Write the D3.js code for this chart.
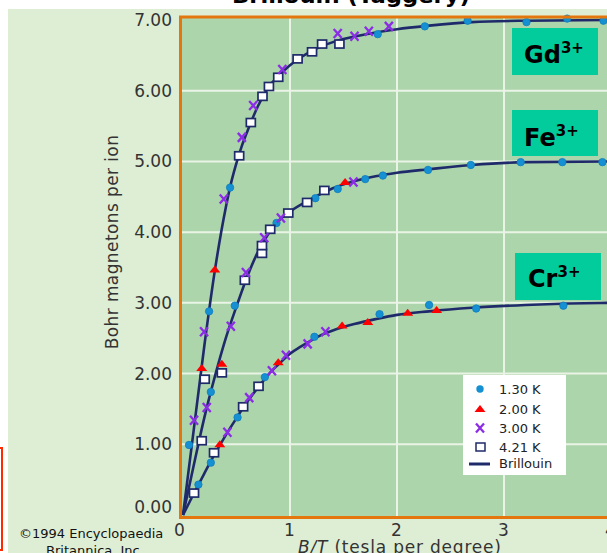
<!DOCTYPE html>
<html>
<head>
<meta charset="utf-8">
<script src="https://cdn.jsdelivr.net/npm/d3@7"></script>
<style>
  body { margin: 0; background: #fff; }
  svg { display: block; }
  text { font-family: "DejaVu Sans", Verdana, sans-serif; }
</style>
</head>
<body>
<script>
// values: [B/T, Bohr magnetons per ion]
var gdCurve = [[0,0],[0.1,1.2],[0.2,2.4],[0.3,3.48],[0.4,4.35],[0.45,4.7],[0.5,4.98],[0.55,5.22],[0.6,5.42],[0.7,5.78],[0.8,6.05],[0.9,6.22],[1.0,6.36],[1.1,6.47],[1.2,6.56],[1.3,6.63],[1.5,6.73],[1.75,6.81],[2.0,6.87],[2.3,6.92],[2.7,6.97],[3.2,6.99],[4.0,7.0]];
var feCurve = [[0,0],[0.1,0.7],[0.2,1.38],[0.3,1.97],[0.4,2.5],[0.5,2.95],[0.6,3.37],[0.7,3.72],[0.8,3.98],[0.9,4.17],[1.0,4.29],[1.2,4.47],[1.4,4.62],[1.6,4.72],[1.8,4.79],[2.0,4.84],[2.3,4.89],[2.7,4.95],[3.2,4.99],[4.0,5.0]];
var crCurve = [[0,0],[0.1,0.3],[0.2,0.59],[0.3,0.87],[0.4,1.13],[0.5,1.37],[0.6,1.6],[0.7,1.8],[0.8,1.99],[0.9,2.14],[1.0,2.28],[1.1,2.38],[1.2,2.47],[1.3,2.55],[1.4,2.61],[1.6,2.7],[1.8,2.77],[2.0,2.83],[2.3,2.88],[2.7,2.93],[3.2,2.97],[3.6,2.99],[4.0,3.0]];

// 1.30 K
var gd130 = [[0.056,0.99],[0.244,2.88],[0.44,4.63],[1.82,6.8],[2.26,6.91],[2.66,6.99],[3.21,6.97],[3.59,7.02],[3.93,6.99]];
var fe130 = [[0.26,1.74],[0.484,2.96],[0.874,4.13],[1.237,4.48],[1.446,4.61],[1.703,4.75],[1.868,4.8],[2.29,4.88],[2.69,4.95],[3.156,4.99],[3.545,4.99],[3.92,4.99]];
var cr130 = [[0.144,0.43],[0.26,0.74],[0.51,1.38],[0.765,1.95],[1.228,2.52],[1.837,2.84],[2.3,2.97],[2.74,2.92],[3.555,2.96]];
// 2.00 K
var gd200 = [[0.175,2.08],[0.297,3.47]];
var fe200 = [[0.363,2.14],[1.515,4.71]];
var cr200 = [[0.344,1.0],[0.89,2.16],[1.487,2.68],[1.727,2.73],[2.1,2.86],[2.37,2.9]];
// 3.00 K
var gd300 = [[0.103,1.34],[0.197,2.59],[0.381,4.47],[0.55,5.34],[0.656,5.79],[0.928,6.3],[1.446,6.81],[1.603,6.77],[1.737,6.84],[1.924,6.91]];
var fe300 = [[0.222,1.52],[0.447,2.67],[0.588,3.43],[0.759,3.92],[0.915,4.2],[1.593,4.71]];
var cr300 = [[0.415,1.17],[0.619,1.66],[0.831,2.04],[0.962,2.26],[1.165,2.42],[1.331,2.59]];
// 4.21 K
var gd421 = [[0.203,1.92],[0.525,5.08],[0.634,5.55],[0.743,5.92],[0.803,6.06],[0.89,6.19],[1.071,6.45],[1.206,6.55],[1.3,6.66],[1.462,6.66]];
var fe421 = [[0.175,1.05],[0.363,2.01],[0.578,3.32],[0.738,3.7],[0.738,3.81],[0.815,4.04],[0.984,4.27],[1.16,4.42],[1.321,4.59]];
var cr421 = [[0.103,0.31],[0.29,0.88],[0.562,1.53],[0.706,1.82]];

var xTicks = [0, 1, 2, 3, 4];
var yTicks = [0, 1, 2, 3, 4, 5, 6, 7];
var legendLabels = ["1.30 K", "2.00 K", "3.00 K", "4.21 K", "Brillouin"];
var ionNames = ["Gd", "Fe", "Cr"];
var ionCharge = "3+";

var W = 607, H = 553;
var navy = "#1f2a6b";

var svg = d3.select("body").append("svg")
    .attr("width", W).attr("height", H);

// light panel
svg.append("rect")
    .attr("x", 8).attr("y", 9).attr("width", W - 8).attr("height", H - 9)
    .attr("fill", "#deeed5");

// red bracket at the left edge
svg.append("rect")
    .attr("x", -20).attr("y", 448).attr("width", 22).attr("height", 102)
    .attr("fill", "none").attr("stroke", "#ff2a00").attr("stroke-width", 2);

// title, cut off by the top edge
svg.append("text")
    .attr("x", 232).attr("y", 3)
    .attr("font-size", 21).attr("font-weight", "bold")
    .attr("textLength", 238).attr("lengthAdjust", "spacingAndGlyphs")
    .text("Brillouin (Taggery)");

var x = d3.scaleLinear().domain([0, 4]).range([183, 611]);
var y = d3.scaleLinear().domain([0, 7]).range([515, 20]);

// plot area
svg.append("rect")
    .attr("x", 181).attr("y", 17).attr("width", 460).attr("height", 500)
    .attr("fill", "#acd5ab");

// grid
svg.append("g").selectAll("line").data([1, 2, 3]).enter().append("line")
    .attr("x1", function(d) { return x(d); }).attr("x2", function(d) { return x(d); })
    .attr("y1", 17).attr("y2", 517)
    .attr("stroke", "#e9f4e6").attr("stroke-width", 2);
svg.append("g").selectAll("line").data([1, 2, 3, 4, 5, 6]).enter().append("line")
    .attr("x1", 181).attr("x2", W)
    .attr("y1", function(d) { return y(d); }).attr("y2", function(d) { return y(d); })
    .attr("stroke", "#e9f4e6").attr("stroke-width", 2);

// Brillouin curves
var line = d3.line()
    .x(function(d) { return x(d[0]); })
    .y(function(d) { return y(d[1]); })
    .curve(d3.curveMonotoneX);

[gdCurve, feCurve, crCurve].forEach(function(c) {
  svg.append("path").attr("d", line(c))
      .attr("fill", "none").attr("stroke", navy).attr("stroke-width", 2.6);
});

// markers
function dots(data) {
  svg.append("g").selectAll("circle").data(data).enter().append("circle")
      .attr("cx", function(d) { return x(d[0]); })
      .attr("cy", function(d) { return y(d[1]); })
      .attr("r", 3.7)
      .attr("fill", "#1590d2").attr("stroke", "#0f7dbd").attr("stroke-width", 0.8);
}
function tris(data) {
  svg.append("g").selectAll("path").data(data).enter().append("path")
      .attr("d", "M-5.5,3L5.5,3L0,-4Z")
      .attr("transform", function(d) { return "translate(" + x(d[0]) + "," + y(d[1]) + ")"; })
      .attr("fill", "#ff0000");
}
function crosses(data) {
  svg.append("g").selectAll("path").data(data).enter().append("path")
      .attr("d", "M-4,-4.5L4,4.5M4,-4.5L-4,4.5")
      .attr("transform", function(d) { return "translate(" + x(d[0]) + "," + y(d[1]) + ")"; })
      .attr("fill", "none").attr("stroke", "#8c2de6").attr("stroke-width", 2.3);
}
function squares(data) {
  svg.append("g").selectAll("rect").data(data).enter().append("rect")
      .attr("x", function(d) { return x(d[0]) - 4.5; })
      .attr("y", function(d) { return y(d[1]) - 4; })
      .attr("width", 9).attr("height", 8)
      .attr("fill", "#fff").attr("stroke", navy).attr("stroke-width", 1.7);
}

[gd130, fe130, cr130].forEach(dots);
[gd200, fe200, cr200].forEach(tris);
[gd421, fe421, cr421].forEach(squares);
[gd300, fe300, cr300].forEach(crosses);

// orange frame
svg.append("rect")
    .attr("x", 180.5).attr("y", 17).attr("width", 460).attr("height", 500.5)
    .attr("fill", "none").attr("stroke", "#e3760c").attr("stroke-width", 3);

// axes
var yAxis = svg.append("g")
    .attr("transform", "translate(172,0)")
    .call(d3.axisLeft(y).tickValues(yTicks).tickSize(0).tickPadding(0).tickFormat(d3.format(".2f")));
yAxis.select(".domain").remove();
yAxis.selectAll("text")
    .attr("font-size", 17).attr("fill", "#333").attr("font-family", "DejaVu Sans")
    .attr("dy", function(d) { return d === 0 ? "-0.15em" : "0.32em"; });

var xAxis = svg.append("g")
    .attr("transform", "translate(0,524)")
    .call(d3.axisBottom(x).tickValues(xTicks).tickSize(0).tickPadding(0).tickFormat(d3.format("d")));
xAxis.select(".domain").remove();
xAxis.selectAll("text")
    .attr("font-size", 17).attr("fill", "#333").attr("font-family", "DejaVu Sans")
    .attr("dx", function(d) { return d === 0 ? -4 : -1; });

// axis titles
svg.append("text")
    .attr("transform", "translate(118,242) rotate(-90)")
    .attr("text-anchor", "middle")
    .attr("font-size", 17).attr("letter-spacing", 0.4).attr("fill", "#333")
    .text("Bohr magnetons per ion");

var xt = svg.append("text")
    .attr("x", 298).attr("y", 553)
    .attr("font-size", 17).attr("letter-spacing", 0.8).attr("fill", "#333");
xt.append("tspan").attr("font-style", "italic").text("B/T");
xt.append("tspan").text(" (tesla per degree)");

// credit
svg.append("text").attr("x", 19).attr("y", 538)
    .attr("font-size", 13).attr("fill", "#111")
    .text("\u00a91994 Encyclopaedia");
svg.append("text").attr("x", 95).attr("y", 555).attr("text-anchor", "middle")
    .attr("font-size", 13).attr("fill", "#111")
    .text("Britannica, Inc.");

// ion labels
var ionBoxes = [[512, 28, 86, 47], [512, 110, 86, 46], [515, 253, 86, 47]];
var ionText = [[524, 63], [524, 146], [528, 287]];
ionNames.forEach(function(n, i) {
  var b = ionBoxes[i];
  svg.append("rect").attr("x", b[0]).attr("y", b[1]).attr("width", b[2]).attr("height", b[3])
      .attr("fill", "#03cc9c");
  var t = svg.append("text").attr("x", ionText[i][0]).attr("y", ionText[i][1])
      .attr("font-size", 24).attr("font-weight", "bold").attr("fill", "#000");
  t.append("tspan").text(n);
  t.append("tspan").attr("font-size", 15).attr("dy", -10).text(ionCharge);
});

// legend
var lg = svg.append("g");
lg.append("rect").attr("x", 463).attr("y", 375).attr("width", 103).attr("height", 100).attr("fill", "#fff");
var rowY = [389, 409, 428, 447, 463];
lg.selectAll("text").data(legendLabels).enter().append("text")
    .attr("x", 499).attr("y", function(d, i) { return rowY[i]; })
    .attr("dy", "0.35em")
    .attr("font-size", 13).attr("fill", "#222")
    .text(function(d) { return d; });
lg.append("circle").attr("cx", 480).attr("cy", rowY[0]).attr("r", 3.7).attr("fill", "#1590d2");
lg.append("path").attr("d", "M-5.5,3L5.5,3L0,-4Z")
    .attr("transform", "translate(480," + rowY[1] + ")").attr("fill", "#ff0000");
lg.append("path").attr("d", "M-4,-4.5L4,4.5M4,-4.5L-4,4.5")
    .attr("transform", "translate(480," + rowY[2] + ")")
    .attr("fill", "none").attr("stroke", "#8c2de6").attr("stroke-width", 2.3);
lg.append("rect").attr("x", 476).attr("y", rowY[3] - 4).attr("width", 9).attr("height", 8)
    .attr("fill", "#fff").attr("stroke", navy).attr("stroke-width", 1.5);
lg.append("line").attr("x1", 469).attr("x2", 490).attr("y1", rowY[4] + 1).attr("y2", rowY[4] + 1)
    .attr("stroke", navy).attr("stroke-width", 3);
</script>
</body>
</html>
